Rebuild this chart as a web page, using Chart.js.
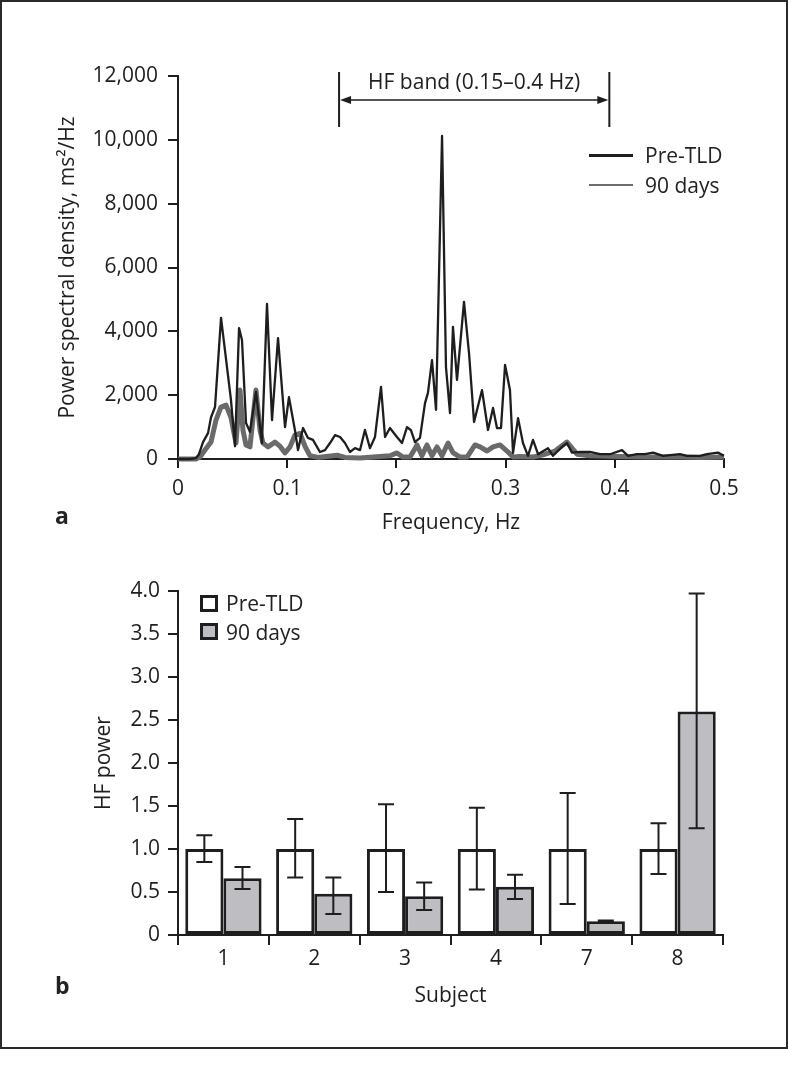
<!DOCTYPE html>
<html>
<head>
<meta charset="utf-8">
<script src="https://cdn.jsdelivr.net/npm/chart.js@4.4.0/dist/chart.umd.min.js"></script>
<style>
  html,body{margin:0;padding:0;background:#fff;}
  body{width:788px;height:1076px;position:relative;font-family:"Open Sans",sans-serif;color:#222;}
  #frame{position:absolute;left:0;top:0;width:788px;height:1049px;border:2px solid #2a2a2a;box-sizing:border-box;}
  canvas{position:absolute;left:0;}
  .t{position:absolute;font-size:21px;line-height:26px;height:26px;white-space:nowrap;color:#222;}
  .sw{position:absolute;}
  .pl{position:absolute;font-weight:bold;font-size:23px;line-height:26px;color:#222;}
</style>
</head>
<body>
<div id="frame"></div>
<canvas id="c1" width="788" height="540" style="top:0;width:788px;height:540px"></canvas>
<canvas id="c2" width="788" height="500" style="top:540px;width:788px;height:500px"></canvas>

<!-- legend, panel a -->
<div class="sw" style="left:589px;top:154px;width:44px;height:3px;background:#1e1e1e"></div>
<div class="t" style="left:645px;top:142px">Pre-TLD</div>
<div class="sw" style="left:589px;top:184px;width:44px;height:2px;background:#6e6e6e"></div>
<div class="t" style="left:645px;top:172px">90 days</div>
<div class="pl" style="left:55px;top:502px">a</div>

<!-- legend, panel b -->
<div class="sw" style="left:200px;top:595px;width:18px;height:17px;border:3px solid #1e1e1e;background:#fff;box-sizing:border-box"></div>
<div class="t" style="left:226px;top:590px">Pre-TLD</div>
<div class="sw" style="left:200px;top:623px;width:18px;height:17px;border:3px solid #1e1e1e;background:#bebec2;box-sizing:border-box"></div>
<div class="t" style="left:226px;top:619px">90 days</div>
<div class="pl" style="left:55px;top:972px">b</div>

<script>
// ---------- Panel a data ----------
const preFreq = [0,0.011,0.0165,0.0192,0.0229,0.0275,0.0302,0.0339,0.0394,0.0485,0.0522,0.0559,0.0586,0.0623,0.0659,0.0714,0.0769,0.0815,0.0861,0.0916,0.098,0.1016,0.1071,0.1099,0.1145,0.119,0.1236,0.13,0.1346,0.1392,0.1438,0.1484,0.1529,0.1575,0.1621,0.1667,0.1712,0.1758,0.1804,0.1859,0.1896,0.1941,0.2005,0.2051,0.2097,0.2134,0.217,0.2216,0.2262,0.2289,0.2326,0.2363,0.2418,0.2454,0.2491,0.2518,0.2555,0.2619,0.2665,0.2711,0.2784,0.2839,0.2885,0.2921,0.2958,0.2995,0.304,0.3068,0.3114,0.3159,0.3205,0.3251,0.3297,0.3388,0.3434,0.3516,0.3562,0.3608,0.3681,0.3773,0.3864,0.3956,0.4066,0.4121,0.4203,0.4277,0.435,0.4441,0.4597,0.4661,0.478,0.4844,0.4945,0.5];
const prePsd = [0,0,30,150,530,810,1300,1630,4420,1850,400,4100,3730,1130,850,2100,500,4860,1220,3790,1000,1940,900,280,970,660,600,220,280,500,750,690,500,220,340,280,910,340,690,2260,690,970,690,500,1000,900,530,660,1750,2070,3100,1540,10120,2880,1440,4140,2480,4920,3320,1160,2160,910,1600,970,970,2950,2160,190,1280,500,100,600,150,340,100,380,500,200,220,220,150,150,280,100,150,150,200,100,150,100,100,150,200,100];
const dayFreq = [0,0.0165,0.0201,0.0247,0.0302,0.0348,0.0394,0.044,0.0485,0.0531,0.0568,0.0595,0.0623,0.0659,0.0714,0.0751,0.0778,0.0824,0.0888,0.0934,0.098,0.1026,0.1071,0.1117,0.1163,0.1209,0.1282,0.1456,0.1529,0.1667,0.1941,0.2005,0.206,0.2125,0.2189,0.2234,0.228,0.2326,0.2372,0.2418,0.2473,0.2518,0.2582,0.2647,0.272,0.2766,0.283,0.2885,0.2949,0.3013,0.3068,0.3132,0.3251,0.3361,0.3452,0.3562,0.3654,0.3773,0.4048,0.4322,0.4597,0.478,0.5];
const dayPsd = [0,0,60,280,530,1220,1630,1690,1300,500,2160,900,440,380,2160,900,500,380,530,400,190,380,750,800,400,100,50,120,50,30,100,190,60,60,440,100,440,100,380,100,500,200,60,60,440,380,250,380,440,250,60,80,60,150,250,530,150,100,80,60,60,50,60];
const freqTicks = [0,0.1,0.2,0.3,0.4,0.5];
const psdTicks = [0,2000,4000,6000,8000,10000,12000];
const seriesNamesA = ['Pre-TLD','90 days'];
const hfBand = [0.1475,0.395];
const hfLabel = 'HF band (0.15\u20130.4 Hz)';

// ---------- Panel b data ----------
const subjects = ['1','2','3','4','7','8'];
const preHF = [1.0,1.0,1.0,1.0,1.0,1.0];
const preLo = [0.85,0.67,0.50,0.53,0.36,0.71];
const preHi = [1.16,1.35,1.52,1.48,1.65,1.30];
const dayHF = [0.66,0.48,0.45,0.56,0.16,2.60];
const dayLo = [0.535,0.245,0.29,0.42,0.15,1.24];
const dayHi = [0.79,0.67,0.61,0.70,0.17,3.97];
const hfTicks = [0,0.5,1,1.5,2,2.5,3,3.5,4];

// ---------- styling ----------
const FONT = {family:'"Open Sans", sans-serif', size:21};
const INK = '#1e1e1e';

const hfPlugin = {
  id:'hfBand',
  afterDraw(chart){
    const {ctx, scales:{x,y}} = chart;
    const xl = x.getPixelForValue(hfBand[0]);
    const xr = x.getPixelForValue(hfBand[1]);
    const yTop = y.getPixelForValue(12125);
    const yBot = y.getPixelForValue(10400);
    const yArr = y.getPixelForValue(11250);
    const yTxt = y.getPixelForValue(11790);
    ctx.save();
    ctx.strokeStyle = INK; ctx.fillStyle = INK;
    ctx.lineWidth = 2;
    ctx.beginPath();
    ctx.moveTo(xl,yTop); ctx.lineTo(xl,yBot);
    ctx.moveTo(xr,yTop); ctx.lineTo(xr,yBot);
    ctx.stroke();
    ctx.lineWidth = 1.5;
    ctx.beginPath(); ctx.moveTo(xl+6,yArr); ctx.lineTo(xr-6,yArr); ctx.stroke();
    const ah = 11, aw = 4;
    ctx.beginPath(); ctx.moveTo(xl+1,yArr); ctx.lineTo(xl+1+ah,yArr-aw); ctx.lineTo(xl+1+ah,yArr+aw); ctx.closePath(); ctx.fill();
    ctx.beginPath(); ctx.moveTo(xr-1,yArr); ctx.lineTo(xr-1-ah,yArr-aw); ctx.lineTo(xr-1-ah,yArr+aw); ctx.closePath(); ctx.fill();
    ctx.font = '21px "Open Sans", sans-serif';
    ctx.textAlign = 'center'; ctx.textBaseline = 'middle';
    ctx.fillText(hfLabel, (xl+xr)/2, yTxt);
    ctx.restore();
  }
};

new Chart(document.getElementById('c1'), {
  type:'line',
  data:{
    datasets:[
      {label:seriesNamesA[0], data:preFreq.map((f,i)=>({x:f,y:prePsd[i]})), borderColor:'#1e1e1e', borderWidth:2.3, pointRadius:0, tension:0, fill:false, order:1, clip:false, borderJoinStyle:'round'},
      {label:seriesNamesA[1], data:dayFreq.map((f,i)=>({x:f,y:dayPsd[i]})), borderColor:'#6a6a6a', borderWidth:5, pointRadius:0, tension:0, fill:false, order:2, clip:false, borderJoinStyle:'round'}
    ]
  },
  options:{
    responsive:false, animation:false, events:[],
    layout:{padding:{top:76,right:64,left:0,bottom:0}},
    plugins:{legend:{display:false}, tooltip:{enabled:false}},
    scales:{
      x:{
        type:'linear', min:0, max:0.5,
        afterBuildTicks:s=>{s.ticks = freqTicks.map(v=>({value:v}));},
        afterFit:s=>{s.height = 81;},
        ticks:{font:FONT, color:INK, padding:8, maxRotation:0, callback:v=>String(v)},
        grid:{drawOnChartArea:false, drawTicks:true, tickLength:9, color:INK, lineWidth:2},
        border:{color:INK, width:2},
        title:{display:true, text:'Frequency, Hz', font:FONT, color:INK, padding:{top:0,bottom:4}}
      },
      y:{
        type:'linear', min:0, max:12000,
        afterBuildTicks:s=>{s.ticks = psdTicks.map(v=>({value:v}));},
        afterFit:s=>{s.width = 178;},
        ticks:{font:FONT, color:INK, padding:10, callback:v=>v.toLocaleString('en-US')},
        grid:{drawOnChartArea:false, drawTicks:true, tickLength:10, color:INK, lineWidth:2},
        border:{color:INK, width:2},
        title:{display:true, text:'Power spectral density, ms\u00B2/Hz', font:FONT, color:INK, padding:{top:55,bottom:0}}
      }
    }
  },
  plugins:[hfPlugin]
});

const errPlugin = {
  id:'errBars',
  afterDatasetsDraw(chart){
    const {ctx, scales:{y}} = chart;
    const sets = [[preLo,preHi],[dayLo,dayHi]];
    ctx.save();
    ctx.strokeStyle = INK; ctx.lineWidth = 2;
    sets.forEach(([lo,hi],di)=>{
      chart.getDatasetMeta(di).data.forEach((bar,i)=>{
        const x = bar.x, y1 = y.getPixelForValue(hi[i]), y2 = y.getPixelForValue(lo[i]);
        const cw = 8;
        ctx.beginPath();
        ctx.moveTo(x,y1); ctx.lineTo(x,y2);
        ctx.moveTo(x-cw,y1); ctx.lineTo(x+cw,y1);
        ctx.moveTo(x-cw,y2); ctx.lineTo(x+cw,y2);
        ctx.stroke();
      });
    });
    ctx.restore();
  }
};

new Chart(document.getElementById('c2'), {
  type:'bar',
  data:{
    labels:subjects,
    datasets:[
      {label:'Pre-TLD', data:preHF, backgroundColor:'#ffffff', borderColor:INK, borderWidth:3, borderSkipped:false},
      {label:'90 days', data:dayHF, backgroundColor:'#bebec2', borderColor:INK, borderWidth:3, borderSkipped:false}
    ]
  },
  options:{
    responsive:false, animation:false, events:[],
    layout:{padding:{top:51,right:65,left:0,bottom:0}},
    datasets:{bar:{categoryPercentage:0.84, barPercentage:1.0}},
    plugins:{legend:{display:false}, tooltip:{enabled:false}},
    scales:{
      x:{
        afterFit:s=>{s.height = 105;},
        ticks:{font:FONT, color:INK, padding:1, maxRotation:0},
        grid:{offset:true, drawOnChartArea:false, drawTicks:true, tickLength:10, color:INK, lineWidth:2},
        border:{color:INK, width:2},
        title:{display:true, text:'Subject', font:FONT, color:INK, padding:{top:0,bottom:31}}
      },
      y:{
        min:0, max:4,
        afterBuildTicks:s=>{s.ticks = hfTicks.map(v=>({value:v}));},
        afterFit:s=>{s.width = 178;},
        ticks:{font:FONT, color:INK, padding:8, callback:v=> v===0 ? '0' : v.toFixed(1)},
        grid:{drawOnChartArea:false, drawTicks:true, tickLength:10, color:INK, lineWidth:2},
        border:{color:INK, width:2},
        title:{display:true, text:'HF power', font:FONT, color:INK, padding:{top:91,bottom:0}}
      }
    }
  },
  plugins:[errPlugin]
});
</script>
</body>
</html>
